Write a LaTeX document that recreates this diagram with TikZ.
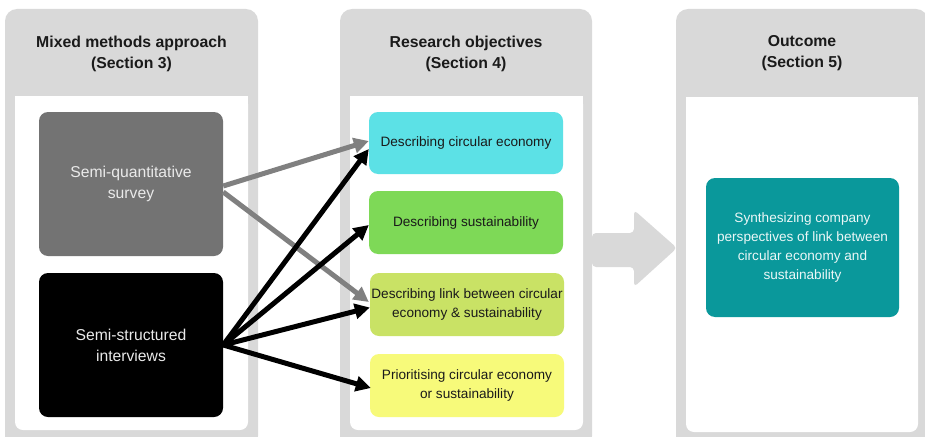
\documentclass[tikz,border=0pt]{standalone}
\usepackage{fontspec}
\setmainfont{Liberation Sans}
\usetikzlibrary{arrows.meta}
\definecolor{panelgrey}{HTML}{D9D9D9}
\definecolor{surveygrey}{HTML}{737373}
\definecolor{arrowgrey}{HTML}{808080}
\definecolor{cecol}{HTML}{5CE1E6}
\definecolor{sustcol}{HTML}{7ED957}
\definecolor{linkcol}{HTML}{C9E265}
\definecolor{priorcol}{HTML}{F7FA7A}
\definecolor{tealcol}{HTML}{0A989B}
\definecolor{lighttext}{HTML}{EAEAEA}
\definecolor{darktext}{HTML}{1A1A1A}
\begin{document}
\begin{tikzpicture}[x=1pt,y=-1pt,
  hdr/.style={align=center,inner sep=0pt,text=darktext,font=\fontsize{15.8}{21}\selectfont\bfseries},
  bigbox/.style={rounded corners=9pt,minimum width=184pt,minimum height=144pt,inner sep=0pt,align=center,
    font=\fontsize{15.7}{21}\selectfont},
  objbox/.style={rounded corners=9pt,minimum width=194pt,minimum height=62pt,inner sep=0pt,align=center,
    text=darktext,font=\fontsize{13.6}{19}\selectfont},
  grarrow/.style={arrowgrey,line width=5pt,-{Triangle[length=15pt,width=15pt]}},
  blarrow/.style={black,line width=5pt,-{Triangle[length=15pt,width=15pt]}}
]
\useasboundingbox (0,0) rectangle (925,436);
\clip (0,0) rectangle (925,436);

% panels
\fill[panelgrey,rounded corners=12pt] (5,9) rectangle (258,448);
\fill[white,rounded corners=8pt] (15,96) rectangle (248,430);
\fill[white] (15,96) rectangle (248,120);

\fill[panelgrey,rounded corners=12pt] (340,9) rectangle (592,448);
\fill[white,rounded corners=8pt] (350,96) rectangle (583,430);
\fill[white] (350,96) rectangle (583,120);

\fill[panelgrey,rounded corners=12pt] (676,9) rectangle (928,448);
\fill[white,rounded corners=8pt] (686,97) rectangle (918,432);
\fill[white] (686,97) rectangle (918,120);

% big arrow
\fill[panelgrey,rounded corners=4pt] (592,233) -- (634,233) -- (634,210) -- (677,248) -- (634,287) -- (634,267) -- (592,267) -- cycle;

% headers
\node[hdr] (h1) at (131.5,53.5) {Mixed methods approach\\(Section 3)};
\node[hdr] (h2) at (466,53.5) {Research objectives\\(Section 4)};
\node[hdr] (h3) at (802,53) {Outcome\\(Section 5)};

% left boxes
\node[bigbox,fill=surveygrey,text=lighttext] (survey) at (131,184) {Semi-quantitative\\survey};
\node[bigbox,fill=black,text=lighttext] (interv) at (131,345) {Semi-structured\\interviews};

% objectives
\node[objbox,fill=cecol] (ce) at (466,143) {Describing circular economy};
\node[objbox,fill=sustcol,minimum height=63pt] (sust) at (466,222.5) {Describing sustainability};
\node[objbox,fill=linkcol,minimum height=63pt] (link) at (467,304.5) {Describing link between circular\\economy \& sustainability};
\node[objbox,fill=priorcol,minimum height=63pt] (prior) at (467,385.5) {Prioritising circular economy\\or sustainability};

% outcome
\node[rounded corners=9pt,minimum width=193pt,minimum height=139pt,inner sep=0pt,align=center,
  fill=tealcol,text=white!92!tealcol,font=\fontsize{13.6}{19}\selectfont] (out) at (802.5,247.5)
  {Synthesizing company\\perspectives of link between\\circular economy and\\sustainability};

% arrows
\draw[grarrow] ([yshift=-2pt]survey.east) -- ([yshift=2pt]ce.west);
\draw[grarrow] ([yshift=-8pt]survey.east) -- ([yshift=2.5pt,xshift=-1pt]link.west);
\draw[blarrow] (interv.east) -- ([yshift=-6pt]ce.west);
\draw[blarrow] (interv.east) -- ([yshift=-2.5pt]sust.west);
\draw[blarrow] (interv.east) -- ([yshift=-3pt]link.west);
\draw[blarrow] (interv.east) -- ([yshift=-2.5pt,xshift=1pt]prior.west);
\end{tikzpicture}
\end{document}
